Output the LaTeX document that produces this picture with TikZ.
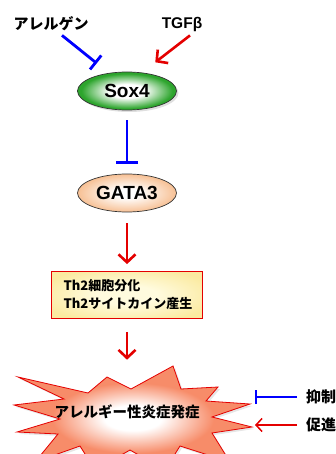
\documentclass[tikz,border=0pt]{standalone}
\usepackage{fontspec}
\setmainfont{Liberation Sans}
\newfontfamily\jp{Noto Sans CJK JP}
\usetikzlibrary{arrows.meta, positioning, shapes.geometric, shadows}
\definecolor{promred}{RGB}{228,0,0}
\definecolor{inhblue}{RGB}{0,0,255}
\definecolor{soxgreen}{RGB}{45,165,45}
\definecolor{gatapeach}{RGB}{247,192,148}
\definecolor{boxpale}{RGB}{255,251,222}
\definecolor{boxyellow}{RGB}{251,234,160}
\definecolor{burstsalmon}{RGB}{247,140,105}
\pgfdeclareradialshading{soxglow}{\pgfpoint{0bp}{0bp}}{color(0bp)=(white); color(9bp)=(white); color(23bp)=(soxgreen); color(50bp)=(soxgreen)}
\pgfdeclareradialshading{gataglow}{\pgfpoint{0bp}{0bp}}{color(0bp)=(white); color(6bp)=(white); color(25bp)=(gatapeach); color(50bp)=(gatapeach)}
\pgfdeclareradialshading{boxglow}{\pgfpoint{0bp}{0bp}}{color(0bp)=(boxpale); color(10bp)=(boxpale); color(30bp)=(boxyellow); color(50bp)=(boxyellow)}
\pgfdeclareradialshading{burstglow}{\pgfpoint{0bp}{0bp}}{color(0bp)=(white); color(6bp)=(white); color(17bp)=(burstsalmon); color(50bp)=(burstsalmon)}

\begin{document}
\begin{tikzpicture}[x=1pt,y=-1pt,node distance=102pt,on grid,
      promote/.style={draw=promred,line width=2.6pt,-{Straight Barb[length=8pt,width=17pt]}},
      inhibit/.style={draw=inhblue,line width=2.8pt,-{Bar[width=22pt]}},
      jplabel/.style={font=\jp\bfseries\fontsize{15}{18}\selectfont,inner sep=0pt},
      factor/.style={ellipse,draw=black!80,line width=0.7pt,minimum width=99pt,minimum height=38pt,
        inner sep=0pt,font=\bfseries\fontsize{19}{20}\selectfont}
      ]
      \useasboundingbox (0,0) rectangle (336,454);
      \node[jplabel] (allergen) at (51,24) {アレルゲン};
      \node[font=\bfseries\fontsize{15.5}{16}\selectfont,inner sep=0pt] (tgfb) at (182,24) {TGFβ};
      \node[factor,shading=soxglow,drop shadow={opacity=0.25,shadow xshift=2pt,shadow yshift=-2pt}] (sox4) at (127,91) {Sox4};
      \node[factor,shading=gataglow] (gata3) [below=of sox4] {GATA3};
      \node[draw=promred,line width=0.8pt,shading=boxglow,minimum width=151pt,minimum height=47pt,
        text width=127pt,align=left,font=\jp\bfseries\fontsize{13}{18}\selectfont] (th2) [below=of gata3]
        {Th2細胞分化\\Th2サイトカイン産生};
      % starburst
      \path[draw=promred,line width=0.8pt,shading=burstglow,drop shadow={opacity=0.2,shadow xshift=2pt,shadow yshift=-2pt}]
        (18,377) -- (88,393) -- (107,377) -- (131,389) -- (173,366) -- (181,389) -- (218,387)
        -- (206,401) -- (250,404) -- (212,417) -- (252,427) -- (212,433) -- (230,462) -- (180,446)
        -- (165,470) -- (130,450) -- (95,470) -- (80,446) -- (35,462) -- (58,434) -- (17,432)
        -- (60,419) -- (14,405) -- (64,399) -- cycle;
      \node[jplabel,font=\jp\bfseries\fontsize{14.5}{16}\selectfont] (burst) [below=117pt of th2] {アレルギー性炎症発症};
      \draw[inhibit,-{Bar[width=18pt]}] ([xshift=11pt,yshift=-4pt]allergen.south) -- ([xshift=5pt,yshift=14pt]sox4.north west);
      \draw[promote] ([xshift=8pt,yshift=-4pt]tgfb.south) -- ([xshift=-7pt,yshift=15pt]sox4.north east);
      \draw[inhibit] ([yshift=-10pt]sox4.south) -- ([yshift=10pt]gata3.north);
      \draw[promote] ([yshift=-11pt]gata3.south) -- ([yshift=7pt]th2.north);
      \draw[promote] ([yshift=-13pt]th2.south) -- ([yshift=45pt]burst.north);
      % legend
      \node[jplabel,anchor=west] (inhlab) at (306,397) {抑制};
      \node[jplabel,anchor=west] (promlab) at (306,425) {促進};
      \coordinate (inhend) at (255,397);
      \coordinate (promend) at (255,425);
      \draw[draw=inhblue,line width=1.5pt,-{Bar[width=14pt]}] ([xshift=-9pt]inhlab.west) -- (inhend);
      \draw[draw=promred,line width=1.5pt,-{Straight Barb[length=6pt,width=13pt]}] ([xshift=-9pt]promlab.west) -- (promend);
    \end{tikzpicture}
\end{document}
